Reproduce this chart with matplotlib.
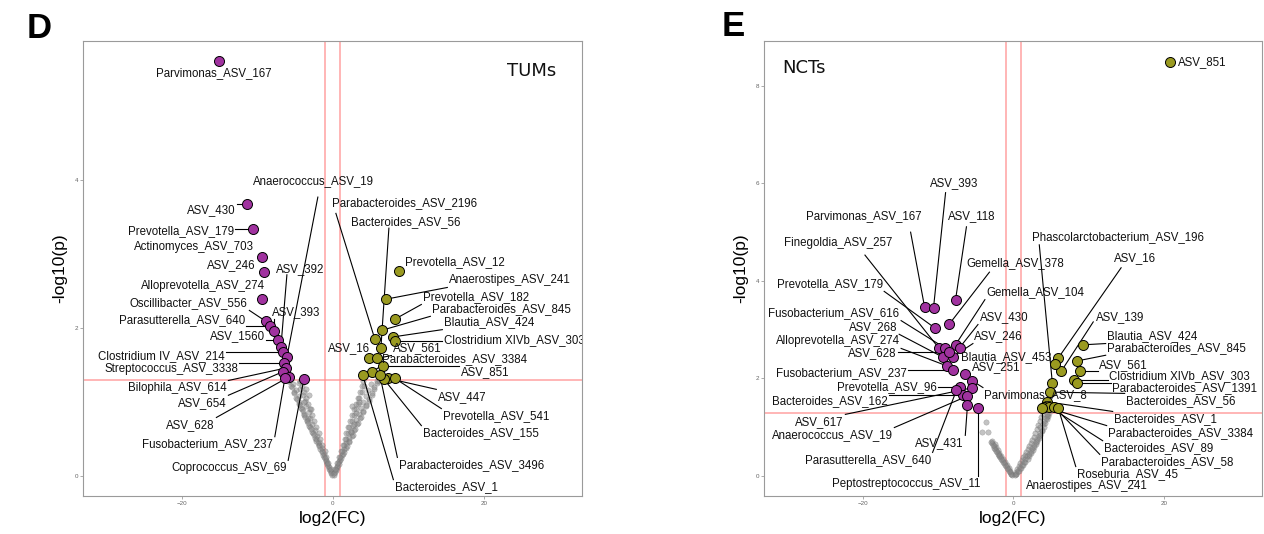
import matplotlib
matplotlib.use("Agg")
import matplotlib.pyplot as plt
import numpy as np

plt.rcParams["font.family"] = ["Liberation Sans", "DejaVu Sans"]

# ---------------- Panel D: TUMs ----------------
d_down_names = ["Parvimonas_ASV_167", "ASV_430", "Prevotella_ASV_179", "Actinomyces_ASV_703",
                "ASV_246", "Alloprevotella_ASV_274", "Oscillibacter_ASV_556", "Parasutterella_ASV_640",
                "ASV_393", "ASV_1560", "ASV_392", "Clostridium IV_ASV_214", "Anaerococcus_ASV_19",
                "Streptococcus_ASV_3338", "Bilophila_ASV_614", "ASV_654", "ASV_628",
                "Fusobacterium_ASV_237", "Coprococcus_ASV_69"]
d_down_fc = [-15.10, -11.40, -10.60, -9.40, -9.10, -9.40, -8.87, -8.34, -7.81, -7.28, -6.89,
             -6.62, -6.09, -6.49, -6.23, -6.62, -5.83, -6.36, -3.84]
d_down_p = [5.61, 3.68, 3.34, 2.96, 2.76, 2.39, 2.09, 2.03, 1.96, 1.84, 1.74,
            1.68, 1.61, 1.53, 1.46, 1.41, 1.34, 1.32, 1.31]

d_up_names = ["Prevotella_ASV_12", "Anaerostipes_ASV_241", "Prevotella_ASV_182",
              "Parabacteroides_ASV_845", "Blautia_ASV_424", "Clostridium XIVb_ASV_303",
              "Parabacteroides_ASV_2196", "Bacteroides_ASV_56", "ASV_16", "ASV_561",
              "Parabacteroides_ASV_3384", "ASV_851", "ASV_447", "Prevotella_ASV_541",
              "Bacteroides_ASV_155", "Parabacteroides_ASV_3496", "Bacteroides_ASV_1"]
d_up_fc = [8.74, 7.02, 8.21, 6.49, 7.95, 8.21, 5.56, 6.36, 4.77, 5.83, 5.17, 6.62, 7.28,
           8.21, 6.75, 6.23, 3.97]
d_up_p = [2.77, 2.39, 2.12, 1.97, 1.88, 1.82, 1.85, 1.73, 1.59, 1.59, 1.41, 1.49, 1.32,
          1.32, 1.31, 1.36, 1.36]

# non-significant features (grey)
d_ns_fc = [-0.10, -0.30, -0.45, -0.60, -0.80, -0.90, -1.20, -1.20, -1.50, -1.50, -1.90, -1.80,
           -2.30, -2.10, -2.60, -2.40, -3.00, -2.70, -3.40, -3.00, -3.80, -3.20, -4.10, -3.50,
           -4.50, -3.70, -4.90, -4.00, -5.20, -4.30, -5.60, -4.50, -5.90,
           -0.20, -0.55, -0.95, -1.35, -1.65, -2.00, -2.40, -2.75, -3.10, -3.45, -3.80, -4.20,
           -4.55, -4.50, -4.90, -5.30,
           -0.35, -0.75, -1.10, -1.45, -1.80, -2.20, -2.55, -2.90, -3.30, -3.65, -4.00, -4.35,
           -4.70, -5.10, -5.45, -5.75,
           -0.30, -0.60, -0.85, -1.10, -1.40, -1.65, -1.90, -2.20, -2.45, -2.70, -3.00, -3.25,
           -3.50, -3.80, -4.05, -4.30,
           -3.50, -3.20, -3.80, -2.90, -3.30,
           0.10, 0.30, 0.40, 0.60, 0.70, 1.00, 0.90, 1.40, 1.20, 1.70, 1.50, 2.10, 1.70, 2.50,
           2.00, 2.80, 2.20, 3.20, 2.50, 3.60, 2.80, 4.00, 3.00, 4.40, 3.30, 4.80, 3.50, 5.20,
           3.80, 5.50, 4.10, 5.90, 6.10,
           0.20, 0.50, 0.85, 1.15, 1.45, 1.80, 2.10, 2.40, 2.70, 3.00, 3.40, 3.70, 4.00, 4.40,
           4.70, 5.00,
           0.35, 0.75, 1.10, 1.50, 1.85, 2.20, 2.60, 2.95, 3.30, 3.70, 4.05, 4.40, 4.80, 5.15,
           5.50, 5.90,
           0.30, 0.55, 0.80, 1.05, 1.30, 1.55, 1.80, 2.05, 2.30, 2.55, 2.80, 3.05, 3.30, 3.55,
           3.80, 4.00,
           2.50, 3.00, 2.80, 3.40, 2.40]
d_ns_p = [0.02, 0.06, 0.10, 0.14, 0.18, 0.22, 0.26, 0.30, 0.34, 0.38, 0.42, 0.46,
          0.50, 0.54, 0.58, 0.62, 0.66, 0.70, 0.74, 0.78, 0.82, 0.86, 0.90, 0.94,
          0.98, 1.02, 1.06, 1.10, 1.14, 1.18, 1.22, 1.26, 1.29,
          0.04, 0.12, 0.20, 0.28, 0.36, 0.44, 0.52, 0.60, 0.68, 0.76, 0.84, 0.92,
          1.00, 1.08, 1.16, 1.24,
          0.08, 0.16, 0.24, 0.32, 0.40, 0.48, 0.56, 0.64, 0.72, 0.80, 0.88, 0.96,
          1.04, 1.12, 1.20, 1.28,
          0.10, 0.18, 0.26, 0.34, 0.42, 0.50, 0.58, 0.66, 0.74, 0.82, 0.90, 0.98,
          1.06, 1.14, 1.22, 1.28,
          1.18, 1.10, 1.00, 0.90, 0.78,
          0.02, 0.06, 0.10, 0.14, 0.18, 0.22, 0.26, 0.30, 0.34, 0.38, 0.42, 0.46, 0.50, 0.54,
          0.58, 0.62, 0.66, 0.70, 0.74, 0.78, 0.82, 0.86, 0.90, 0.94, 0.98, 1.02, 1.06, 1.10,
          1.14, 1.18, 1.22, 1.26, 1.29,
          0.04, 0.12, 0.20, 0.28, 0.36, 0.44, 0.52, 0.60, 0.68, 0.76, 0.84, 0.92, 1.00, 1.08,
          1.16, 1.24,
          0.08, 0.16, 0.24, 0.32, 0.40, 0.48, 0.56, 0.64, 0.72, 0.80, 0.88, 0.96, 1.04, 1.12,
          1.20, 1.28,
          0.10, 0.18, 0.26, 0.34, 0.42, 0.50, 0.58, 0.66, 0.74, 0.82, 0.90, 0.98, 1.06, 1.14,
          1.22, 1.28,
          0.95, 0.85, 0.70, 1.00, 0.60]

# ---------------- Panel E: NCTs ----------------
e_down_names = ["Parvimonas_ASV_167", "ASV_393", "ASV_118", "Prevotella_ASV_179", "Gemella_ASV_378",
                "Finegoldia_ASV_257", "Fusobacterium_ASV_616", "Gemella_ASV_104", "ASV_430",
                "ASV_268", "ASV_246", "Alloprevotella_ASV_274", "ASV_628", "Fusobacterium_ASV_237",
                "ASV_251", "Parvimonas_ASV_8", "Prevotella_ASV_96", "ASV_617", "Bacteroides_ASV_162",
                "Anaerococcus_ASV_19", "Parasutterella_ASV_640", "ASV_431", "Peptostreptococcus_ASV_11"]
e_down_fc = [-11.79, -10.60, -7.68, -10.46, -8.48, -9.93, -9.14, -7.68, -7.15, -9.40, -8.08,
             -8.87, -8.48, -8.08, -6.36, -5.43, -7.15, -5.43, -6.75, -6.09, -7.55, -6.09, -4.64]
e_down_p = [3.47, 3.45, 3.61, 3.04, 3.12, 2.63, 2.63, 2.69, 2.63, 2.44, 2.44,
            2.26, 2.54, 2.17, 2.09, 1.95, 1.83, 1.81, 1.66, 1.64, 1.76, 1.46, 1.39]

e_up_names = ["Blautia_ASV_424", "Parabacteroides_ASV_845", "ASV_561", "Clostridium XIVb_ASV_303",
              "Parabacteroides_ASV_1391", "ASV_16", "ASV_139", "Blautia_ASV_453",
              "Phascolarctobacterium_ASV_196", "Bacteroides_ASV_56", "Bacteroides_ASV_1",
              "Parabacteroides_ASV_3384", "Bacteroides_ASV_89", "Parabacteroides_ASV_58",
              "Roseburia_ASV_45", "Anaerostipes_ASV_241", "ASV_851"]
e_up_fc = [9.27, 8.48, 8.87, 8.08, 8.48, 5.96, 6.36, 5.56, 5.17, 4.90, 4.50, 4.11, 4.77,
           5.43, 5.96, 3.84, 20.80]
e_up_p = [2.69, 2.36, 2.15, 1.97, 1.91, 2.42, 2.15, 2.30, 1.91, 1.72, 1.52, 1.42, 1.42,
          1.42, 1.39, 1.39, 8.49]

e_ns_fc = [-0.15, -0.30, -0.50, -0.40, -0.75, -0.60, -1.00, -0.85, -1.25, -1.10, -1.50, -1.35,
           -1.75, -1.60, -1.95, -1.85, -2.20, -2.05, -2.40, -2.30, -2.60, -2.50, -2.80, -2.90,
           -0.25, -0.60, -0.90, -1.15, -1.40, -1.65, -1.90, -2.10, -2.35, -2.55, -2.70, -2.95,
           -3.60, -4.20, -3.40,
           0.15, 0.40, 0.30, 0.70, 0.50, 1.00, 0.70, 1.30, 0.90, 1.60, 1.10, 1.90, 1.30, 2.10,
           1.50, 2.40, 1.70, 2.60, 1.90, 2.80, 2.10, 3.00, 2.30, 3.20, 2.50, 3.40, 2.70, 3.60,
           2.90, 3.80, 3.10, 4.00, 3.30, 4.20, 3.50, 4.40, 3.70, 4.60, 3.90, 4.70,
           0.30, 0.60, 0.85, 1.10, 1.35, 1.60, 1.85, 2.05, 2.30, 2.50, 2.75, 2.95, 3.15, 3.35,
           3.55, 3.75, 3.60, 3.90, 4.10, 4.30, 4.40, 4.50]
e_ns_p = [0.02, 0.05, 0.08, 0.11, 0.14, 0.17, 0.20, 0.23, 0.26, 0.29, 0.32, 0.35,
          0.38, 0.41, 0.44, 0.47, 0.50, 0.53, 0.56, 0.59, 0.62, 0.65, 0.68, 0.71,
          0.04, 0.10, 0.16, 0.22, 0.28, 0.34, 0.40, 0.46, 0.52, 0.58, 0.64, 0.70,
          1.11, 0.90, 0.90,
          0.02, 0.05, 0.08, 0.11, 0.14, 0.17, 0.20, 0.23, 0.26, 0.29, 0.32, 0.35, 0.38, 0.41,
          0.44, 0.47, 0.50, 0.53, 0.56, 0.59, 0.62, 0.65, 0.68, 0.71, 0.74, 0.77, 0.80, 0.84,
          0.88, 0.92, 0.96, 1.00, 1.04, 1.08, 1.12, 1.16, 1.20, 1.24, 1.28, 1.29,
          0.04, 0.10, 0.16, 0.22, 0.28, 0.34, 0.40, 0.46, 0.52, 0.58, 0.64, 0.70, 0.76, 0.82,
          0.88, 0.94, 1.00, 1.06, 1.12, 1.18, 1.24, 1.28]

# Label placement (data coordinates of the text anchor, horizontal alignment)
d_label_pos = {
    "Parvimonas_ASV_167": (-15.76, 5.45, "center"),
    "ASV_430": (-12.85, 3.59, "right"),
    "Prevotella_ASV_179": (-13.10, 3.31, "right"),
    "Actinomyces_ASV_703": (-10.46, 3.09, "right"),
    "ASV_246": (-10.30, 2.85, "right"),
    "ASV_392": (-7.55, 2.80, "left"),
    "Alloprevotella_ASV_274": (-9.00, 2.57, "right"),
    "Oscillibacter_ASV_556": (-11.26, 2.34, "right"),
    "ASV_393": (-8.08, 2.22, "left"),
    "Parasutterella_ASV_640": (-11.66, 2.11, "right"),
    "ASV_1560": (-9.00, 1.89, "right"),
    "Anaerococcus_ASV_19": (-2.52, 3.99, "center"),
    "Clostridium IV_ASV_214": (-14.30, 1.62, "right"),
    "Streptococcus_ASV_3338": (-12.58, 1.45, "right"),
    "Bilophila_ASV_614": (-14.04, 1.19, "right"),
    "ASV_654": (-14.04, 0.99, "right"),
    "ASV_628": (-15.63, 0.69, "right"),
    "Fusobacterium_ASV_237": (-16.56, 0.43, "center"),
    "Coprococcus_ASV_69": (-13.77, 0.11, "center"),
    "Prevotella_ASV_12": (9.54, 2.89, "left"),
    "Anaerostipes_ASV_241": (15.36, 2.65, "left"),
    "Prevotella_ASV_182": (11.92, 2.42, "left"),
    "Parabacteroides_ASV_845": (13.11, 2.26, "left"),
    "Blautia_ASV_424": (14.70, 2.08, "left"),
    "Clostridium XIVb_ASV_303": (14.70, 1.84, "left"),
    "ASV_16": (-0.66, 1.73, "left"),
    "ASV_561": (7.95, 1.73, "left"),
    "Parabacteroides_ASV_3384": (6.49, 1.58, "left"),
    "ASV_851": (16.95, 1.41, "left"),
    "ASV_447": (13.90, 1.07, "left"),
    "Prevotella_ASV_541": (14.57, 0.81, "left"),
    "Bacteroides_ASV_155": (11.92, 0.58, "left"),
    "Parabacteroides_ASV_3496": (8.74, 0.15, "left"),
    "Bacteroides_ASV_1": (8.21, -0.15, "left"),
    "Parabacteroides_ASV_2196": (-0.13, 3.69, "left"),
    "Bacteroides_ASV_56": (2.38, 3.43, "left"),
}
# segment end points for long leader lines (data coordinates)
d_seg_end = {
    "Anaerococcus_ASV_19": (-1.99, 3.77),
    "Parabacteroides_ASV_2196": (0.40, 3.55),
    "Bacteroides_ASV_56": (7.42, 3.35),
    "ASV_392": (-6.09, 2.72),
}

e_label_pos = {
    "ASV_393": (-7.81, 6.01, "center"),
    "Parvimonas_ASV_167": (-19.80, 5.33, "center"),
    "ASV_118": (-5.56, 5.33, "center"),
    "Finegoldia_ASV_257": (-23.30, 4.78, "center"),
    "Gemella_ASV_378": (-6.23, 4.37, "left"),
    "Prevotella_ASV_179": (-17.35, 3.94, "right"),
    "Gemella_ASV_104": (-3.58, 3.77, "left"),
    "Fusobacterium_ASV_616": (-15.10, 3.34, "right"),
    "ASV_430": (-4.50, 3.26, "left"),
    "ASV_268": (-15.36, 3.06, "right"),
    "ASV_246": (-5.17, 2.87, "left"),
    "Alloprevotella_ASV_274": (-15.10, 2.77, "right"),
    "ASV_628": (-15.50, 2.52, "right"),
    "ASV_251": (-5.43, 2.24, "left"),
    "Fusobacterium_ASV_237": (-14.17, 2.11, "right"),
    "Prevotella_ASV_96": (-10.20, 1.83, "right"),
    "Parvimonas_ASV_8": (-3.84, 1.66, "left"),
    "Bacteroides_ASV_162": (-16.69, 1.54, "right"),
    "ASV_617": (-22.50, 1.11, "right"),
    "Anaerococcus_ASV_19": (-16.00, 0.84, "right"),
    "ASV_431": (-9.80, 0.68, "center"),
    "Parasutterella_ASV_640": (-19.30, 0.33, "center"),
    "Peptostreptococcus_ASV_11": (-14.17, -0.16, "center"),
    "Phascolarctobacterium_ASV_196": (13.90, 4.90, "center"),
    "ASV_16": (16.16, 4.47, "center"),
    "ASV_139": (11.00, 3.26, "left"),
    "Blautia_ASV_424": (12.45, 2.87, "left"),
    "Parabacteroides_ASV_845": (12.45, 2.63, "left"),
    "ASV_561": (11.40, 2.28, "left"),
    "Clostridium XIVb_ASV_303": (12.70, 2.05, "left"),
    "Parabacteroides_ASV_1391": (13.10, 1.81, "left"),
    "Bacteroides_ASV_56": (14.97, 1.54, "left"),
    "Bacteroides_ASV_1": (13.38, 1.17, "left"),
    "Parabacteroides_ASV_3384": (12.58, 0.88, "left"),
    "Bacteroides_ASV_89": (12.05, 0.57, "left"),
    "Parabacteroides_ASV_58": (11.66, 0.29, "left"),
    "Roseburia_ASV_45": (8.48, 0.04, "left"),
    "Anaerostipes_ASV_241": (1.72, -0.21, "left"),
    "Blautia_ASV_453": (5.03, 2.44, "right"),
    "ASV_851": (21.90, 8.49, "left"),
}
e_seg_end = {
    "ASV_393": (-9.00, 5.81),
    "Parvimonas_ASV_167": (-13.64, 5.00),
    "ASV_118": (-6.23, 5.11),
    "Finegoldia_ASV_257": (-19.70, 4.53),
    "Gemella_ASV_378": (-3.18, 4.18),
    "Phascolarctobacterium_ASV_196": (3.44, 4.74),
    "ASV_16": (14.30, 4.27),
    "ASV_139": (10.60, 3.16),
}

DOWN_COLOR = "#A0329F"
UP_COLOR = "#9A9A20"
FC_CUT = 1.0
P_CUT = -np.log10(0.05)

W, H = 1264, 534
fig = plt.figure(figsize=(W / 100, H / 100), dpi=100)
ax_d = fig.add_axes([83 / W, 1 - 496 / H, (582 - 83) / W, (496 - 41) / H])
ax_e = fig.add_axes([764 / W, 1 - 496 / H, (1262 - 764) / W, (496 - 41) / H])


def draw_panel(ax, ns, down, up, label_pos, ylim, yticks, tag, tag_xy, tag_ha):
    ax.set_xlim(-33.1, 33.0)
    ax.set_ylim(*ylim)
    ax.axvline(-FC_CUT, color="#ff8a8a", lw=1.1, alpha=0.8, zorder=1)
    ax.axvline(FC_CUT, color="#ff8a8a", lw=1.1, alpha=0.8, zorder=1)
    ax.axhline(P_CUT, color="#ff8a8a", lw=1.1, alpha=0.8, zorder=1)
    ax.scatter(ns[0], ns[1], s=15, color="#888888", alpha=0.5,
               edgecolors="#6a6a6a", linewidths=0.3, zorder=2)
    texts = []
    for names, fc, p, col in (down + (DOWN_COLOR,), up + (UP_COLOR,)):
        ax.scatter(fc, p, s=52, color=col, edgecolors="black", linewidths=0.7, zorder=4)
        for n, x, y in zip(names, fc, p):
            lx, ly, ha = label_pos[n]
            t = ax.text(lx, ly, n, ha=ha, va="center", fontsize=8.3, color="#111111",
                        zorder=6, clip_on=True)
            texts.append((n, t, x, y))
    ax.set_xticks([-20, 0, 20])
    ax.set_yticks(yticks)
    ax.tick_params(length=2, width=0.5, color="#888888", labelsize=4.5,
                   labelcolor="#666666", pad=1.5)
    for s in ax.spines.values():
        s.set_color("#9a9a9a")
        s.set_linewidth(0.8)
    ax.set_xlabel("log2(FC)", fontsize=12.5, labelpad=4)
    ax.set_ylabel("-log10(p)", fontsize=12.5, labelpad=5)
    ax.text(tag_xy[0], tag_xy[1], tag, transform=ax.transAxes, ha=tag_ha, va="center",
            fontsize=13, family="DejaVu Sans", color="#111111")
    return texts


texts_d = draw_panel(ax_d, (d_ns_fc, d_ns_p), (d_down_names, d_down_fc, d_down_p),
                     (d_up_names, d_up_fc, d_up_p), d_label_pos, (-0.27, 5.88), [0, 2, 4],
                     "TUMs", (0.948, 0.935), "right")
texts_e = draw_panel(ax_e, (e_ns_fc, e_ns_p), (e_down_names, e_down_fc, e_down_p),
                     (e_up_names, e_up_fc, e_up_p), e_label_pos, (-0.41, 8.92), [0, 2, 4, 6, 8],
                     "NCTs", (0.036, 0.94), "left")

fig.text(27 / W, 1 - 28 / H, "D", ha="left", va="center", fontsize=25, fontweight="bold")
fig.text(722 / W, 1 - 27 / H, "E", ha="left", va="center", fontsize=25, fontweight="bold")

# Leader segments: from each point to the nearest edge of its label box
fig.canvas.draw()
renderer = fig.canvas.get_renderer()
for ax, texts, seg_end in ((ax_d, texts_d, d_seg_end), (ax_e, texts_e, e_seg_end)):
    inv = ax.transData.inverted()
    for n, t, x, y in texts:
        if n in seg_end:
            ex, ey = seg_end[n]
            ax.plot([x, ex], [y, ey], color="black", lw=0.8, zorder=3)
            continue
        bb = t.get_window_extent(renderer).padded(1.5)
        x0, y0 = ax.transData.transform((x, y))
        cx = min(max(x0, bb.x0), bb.x1)
        cy = min(max(y0, bb.y0), bb.y1)
        if np.hypot(cx - x0, cy - y0) > 8:
            (ax_, ay_), (bx_, by_) = inv.transform([(x0, y0), (cx, cy)])
            ax.plot([ax_, bx_], [ay_, by_], color="black", lw=0.8, zorder=3)

fig.savefig("out.png", dpi=100)
